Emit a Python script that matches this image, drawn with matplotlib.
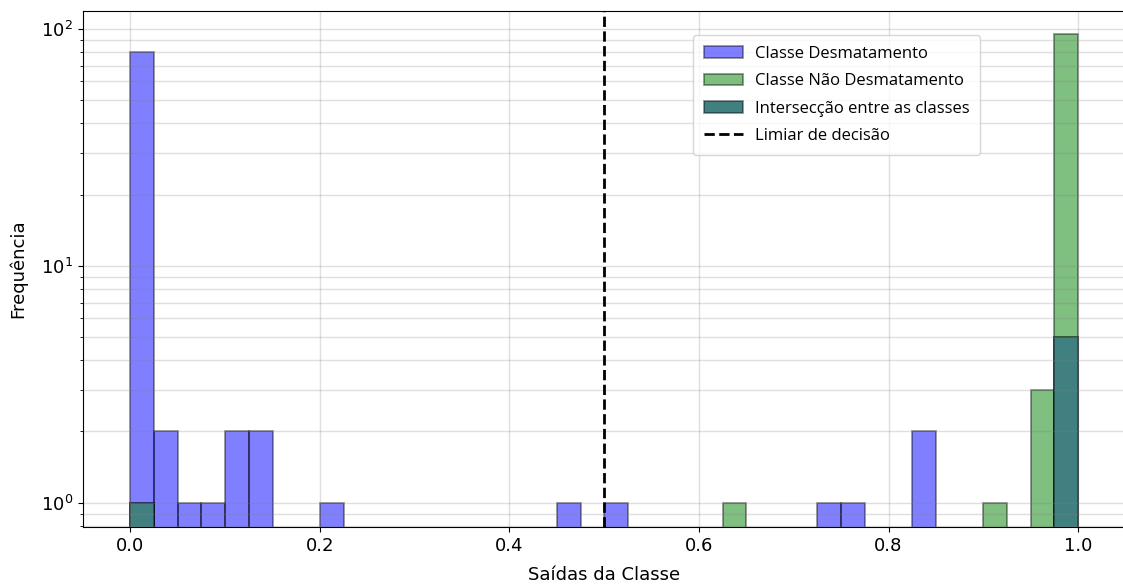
import numpy as np
import matplotlib
matplotlib.use("Agg")
import matplotlib.pyplot as plt

# 40 bins between 0 and 1
bin_edges = np.linspace(0, 1, 41)
bin_centers = (bin_edges[:-1] + bin_edges[1:]) / 2

# counts per bin (index -> count)
desmat_counts = {0: 80, 1: 2, 2: 1, 3: 1, 4: 2, 5: 2, 8: 1, 18: 1, 20: 1,
                 29: 1, 30: 1, 33: 2, 39: 5}
nao_desmat_counts = {0: 1, 25: 1, 36: 1, 38: 3, 39: 95}

desmat = np.zeros(40)
nao_desmat = np.zeros(40)
for k, v in desmat_counts.items():
    desmat[k] = v
for k, v in nao_desmat_counts.items():
    nao_desmat[k] = v
intersec = np.minimum(desmat, nao_desmat)

limiar = 0.5

fig = plt.figure(figsize=(11.23, 5.85), dpi=100)
ax = fig.add_axes([0.0739, 0.0991, 0.9283, 0.8821])

edge = (0, 0, 0, 0.42)
ax.hist(bin_centers, bins=bin_edges, weights=desmat, facecolor=(0, 0, 1, 0.5),
        edgecolor=edge, linewidth=1.3, label='Classe Desmatamento')
ax.hist(bin_centers, bins=bin_edges, weights=nao_desmat, facecolor=(0, 0.5, 0, 0.5),
        edgecolor=edge, linewidth=1.3, label='Classe Não Desmatamento')
ax.hist(bin_centers, bins=bin_edges, weights=intersec, facecolor='#408080',
        edgecolor=edge, linewidth=1.3, label='Intersecção entre as classes')
ax.axvline(limiar, color='black', linestyle='--', linewidth=2, label='Limiar de decisão')

ax.set_yscale('log')
ax.set_ylim(0.79, 119)
ax.set_xlim(-0.05, 1.05)

ax.set_xlabel('Saídas da Classe', fontsize=13, labelpad=8)
ax.set_ylabel('Frequência', fontsize=13, labelpad=10)
ax.tick_params(axis='both', which='major', labelsize=13)

# grid drawn over the bars, as in the original
ax.grid(which='major', color='gray', alpha=0.25, linewidth=1)
ax.grid(which='minor', axis='y', color='gray', alpha=0.25, linewidth=1)

ax.legend(loc='upper left', bbox_to_anchor=(0.585, 0.953), borderaxespad=0,
          prop={'family': 'Open Sans', 'size': 12},
          labelspacing=0.68, handlelength=2.35, handletextpad=0.72, borderpad=0.65)

fig.savefig('out.png', dpi=100)
